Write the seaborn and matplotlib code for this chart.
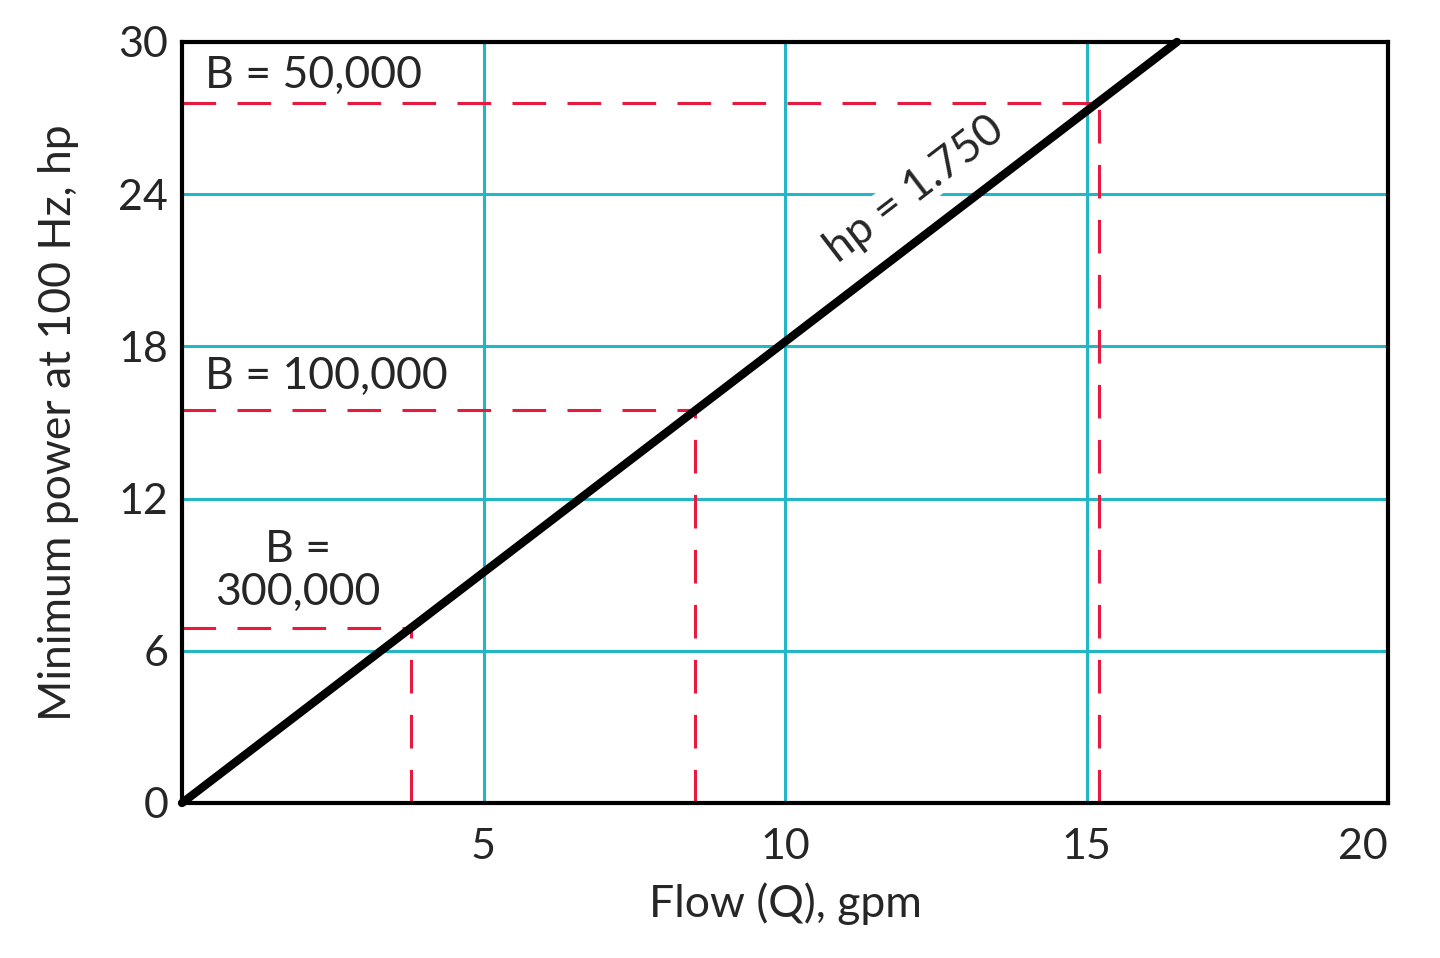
import pandas as pd
import matplotlib
matplotlib.use('Agg')
import matplotlib.pyplot as plt
import seaborn as sns

# Chart values
line_q = [0, 16.5]
line_hp = [0, 30]

b_labels = ['B = 50,000', 'B = 100,000', 'B =\n300,000']
b_q = [15.2, 8.5, 3.8]
b_hp = [27.6, 15.5, 6.9]

x_ticks = [5, 10, 15, 20]
y_ticks = [0, 6, 12, 18, 24, 30]

sns.set_style('white')
plt.rcParams['font.family'] = ['Lato', 'DejaVu Sans']

fig = plt.figure(figsize=(14.4, 9.58), dpi=100)
ax = fig.add_axes([0.1264, 0.1618, 0.8375, 0.7944])

cyan = '#22b6c6'
red = '#e8193f'

# red dashed guide lines for each B value
for q, h in zip(b_q, b_hp):
    seg_h = pd.DataFrame({'q': [0, q], 'hp': [h, h]})
    seg_v = pd.DataFrame({'q': [q, q], 'hp': [0, h]})
    for seg in (seg_h, seg_v):
        sns.lineplot(data=seg, x='q', y='hp', ax=ax, color=red, lw=2.2,
                     sort=False, estimator=None, dashes=False, zorder=2)
for l in ax.lines:
    l.set_dashes((11, 7))

# main line
main = pd.DataFrame({'q': line_q, 'hp': line_hp})
sns.lineplot(data=main, x='q', y='hp', ax=ax, color='black', lw=6,
             sort=False, estimator=None, zorder=4, clip_on=False,
             solid_capstyle='round')

ax.set_xlim(0, 20)
ax.set_ylim(0, 30)
ax.set_xticks(x_ticks)
ax.set_yticks(y_ticks)
ax.set_xticklabels([str(t) for t in x_ticks], fontsize=31)
ax.set_yticklabels([str(t) for t in y_ticks], fontsize=31)
ax.get_xticklabels()[-1].set_ha('right')
ax.tick_params(axis='x', length=0, pad=18)
ax.tick_params(axis='y', length=0, pad=10)

ax.grid(True, color=cyan, lw=2.2)
ax.set_axisbelow(True)
for s in ax.spines.values():
    s.set_color('black')
    s.set_linewidth(3)
    s.set_zorder(5)

ax.set_xlabel('Flow (Q), gpm', fontsize=32, labelpad=12)
ax.set_ylabel('Minimum power at 100 Hz, hp', fontsize=32, labelpad=28)

# annotations
ax.text(0.38, 28.7, b_labels[0], fontsize=32, va='center', ha='left')
ax.text(0.38, 16.8, b_labels[1], fontsize=32, va='center', ha='left')
ax.text(1.92, 9.15, b_labels[2], fontsize=32, va='center', ha='center',
        multialignment='center', linespacing=1.05)
ax.text(12.15, 24.2, 'hp = 1.750', fontsize=32, rotation=37.4,
        rotation_mode='anchor', ha='center', va='center', zorder=3,
        bbox=dict(facecolor='white', edgecolor='none', pad=0))

fig.savefig('out.png', dpi=100)
